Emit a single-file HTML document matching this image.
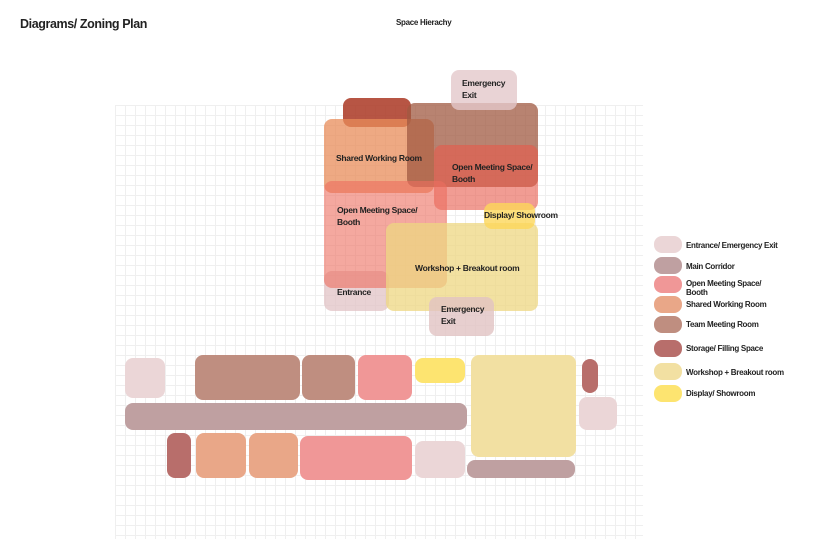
<!DOCTYPE html>
<html><head><meta charset="utf-8"><style>
body{margin:0;width:831px;height:539px;background:#fff;position:relative;overflow:hidden;font-family:"Liberation Sans",sans-serif;}
.grid{position:absolute;left:115px;top:105px;width:528px;height:434px;
background-image:linear-gradient(to right,#efefef 1px,transparent 1px),linear-gradient(to bottom,#efefef 1px,transparent 1px);
background-size:10px 10px;}
.b{position:absolute;border-radius:8px;}
.t{position:absolute;font-size:8.5px;font-weight:bold;color:#222;letter-spacing:-0.3px;line-height:12px;}
.lg{position:absolute;left:654px;width:28px;height:17px;border-radius:8px;}
.lt{position:absolute;left:686px;font-size:8px;font-weight:bold;color:#222;letter-spacing:-0.3px;line-height:9px;}
</style></head><body>
<div class="grid"></div>
<div class="t" style="left:20px;top:18px;font-size:12.5px;letter-spacing:-0.4px;">Diagrams/ Zoning Plan</div>
<div class="t" style="left:396px;top:17px;font-size:8px;">Space Hierachy</div>

<div class="b" style="left:343px;top:98px;width:68px;height:29px;background:rgba(170,55,35,0.85)"></div>
<div class="b" style="left:324px;top:119px;width:110px;height:74px;background:rgba(232,140,90,0.75)"></div>
<div class="b" style="left:407px;top:103px;width:131px;height:84px;background:rgba(160,90,65,0.75)"></div>
<div class="b" style="left:434px;top:145px;width:104px;height:65px;background:rgba(232,90,75,0.6)"></div>
<div class="b" style="left:324px;top:271px;width:65px;height:40px;background:rgba(225,195,198,0.75)"></div>
<div class="b" style="left:324px;top:181px;width:123px;height:107px;background:rgba(236,110,95,0.6)"></div>
<div class="b" style="left:386px;top:223px;width:152px;height:88px;background:rgba(238,215,130,0.75)"></div>
<div class="b" style="left:484px;top:203px;width:51px;height:26px;background:rgba(253,215,90,0.8)"></div>
<div class="b" style="left:451px;top:70px;width:66px;height:40px;background:rgba(228,200,202,0.8)"></div>
<div class="b" style="left:429px;top:297px;width:65px;height:39px;background:rgba(225,195,195,0.8)"></div>

<div class="t" style="left:462px;top:77px;">Emergency<br>Exit</div>
<div class="t" style="left:336px;top:152px;">Shared Working Room</div>
<div class="t" style="left:452px;top:161px;">Open Meeting Space/<br>Booth</div>
<div class="t" style="left:337px;top:204px;">Open Meeting Space/<br>Booth</div>
<div class="t" style="left:484px;top:209px;">Display/ Showroom</div>
<div class="t" style="left:415px;top:262px;">Workshop + Breakout room</div>
<div class="t" style="left:337px;top:286px;">Entrance</div>
<div class="t" style="left:441px;top:303px;">Emergency<br>Exit</div>

<div class="b" style="left:125px;top:358px;width:40px;height:40px;background:#ebd6d7"></div>
<div class="b" style="left:195px;top:355px;width:105px;height:45px;background:#bf8e80"></div>
<div class="b" style="left:302px;top:355px;width:53px;height:45px;background:#bf8e80"></div>
<div class="b" style="left:358px;top:355px;width:54px;height:45px;background:#f09797"></div>
<div class="b" style="left:415px;top:358px;width:50px;height:25px;background:#fde470"></div>
<div class="b" style="left:471px;top:355px;width:105px;height:102px;background:#f2e0a2"></div>
<div class="b" style="left:582px;top:359px;width:16px;height:34px;background:#b86e6b"></div>
<div class="b" style="left:125px;top:403px;width:342px;height:27px;background:#bfa0a1"></div>
<div class="b" style="left:579px;top:397px;width:38px;height:33px;background:#ebd6d7"></div>
<div class="b" style="left:167px;top:433px;width:24px;height:45px;background:#b86e6b"></div>
<div class="b" style="left:196px;top:433px;width:50px;height:45px;background:#e9a788"></div>
<div class="b" style="left:249px;top:433px;width:49px;height:45px;background:#e9a788"></div>
<div class="b" style="left:300px;top:436px;width:112px;height:44px;background:#f09797"></div>
<div class="b" style="left:415px;top:441px;width:50px;height:37px;background:#ebd6d7"></div>
<div class="b" style="left:467px;top:460px;width:108px;height:18px;background:#bfa0a1"></div>

<div class="lg" style="top:236px;background:#ebd6d7"></div><div class="lt" style="top:241px;">Entrance/ Emergency Exit</div>
<div class="lg" style="top:257px;background:#bfa0a1"></div><div class="lt" style="top:262px;">Main Corridor</div>
<div class="lg" style="top:276px;background:#f09797"></div><div class="lt" style="top:279px;">Open Meeting Space/<br>Booth</div>
<div class="lg" style="top:296px;background:#e9a788"></div><div class="lt" style="top:300px;">Shared Working Room</div>
<div class="lg" style="top:316px;background:#bf8e80"></div><div class="lt" style="top:320px;">Team Meeting Room</div>
<div class="lg" style="top:340px;background:#b86e6b"></div><div class="lt" style="top:344px;">Storage/ Filling Space</div>
<div class="lg" style="top:363px;background:#f2e0a2"></div><div class="lt" style="top:368px;">Workshop + Breakout room</div>
<div class="lg" style="top:385px;background:#fde470"></div><div class="lt" style="top:389px;">Display/ Showroom</div>
</body></html>
